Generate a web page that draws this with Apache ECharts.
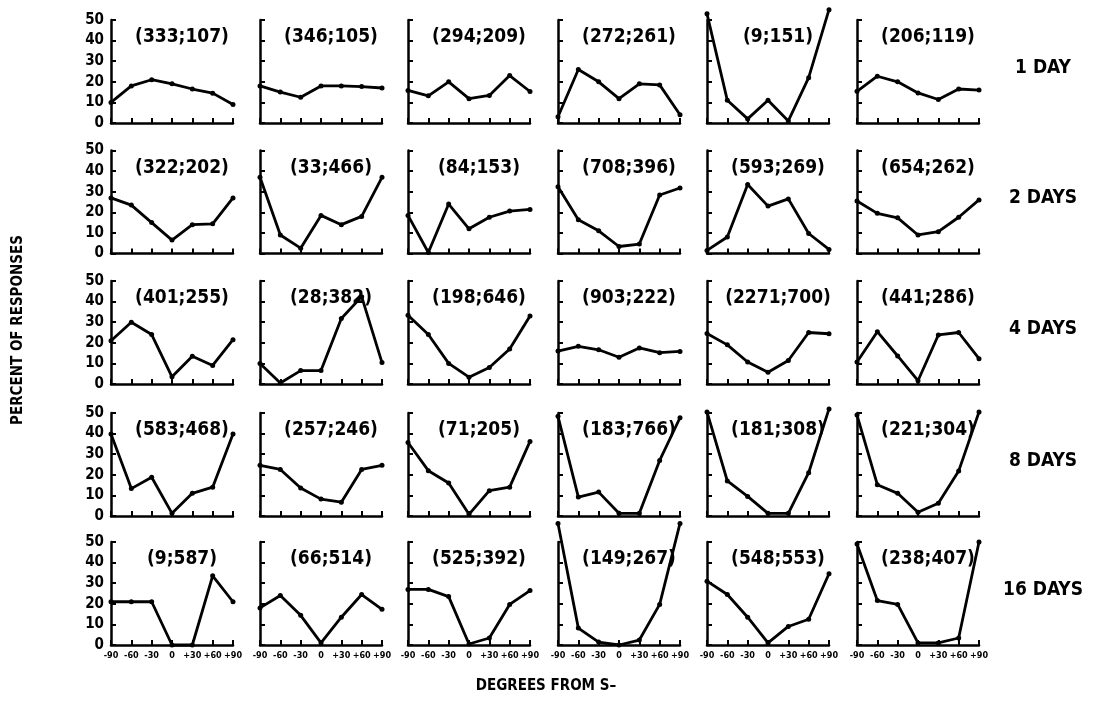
<!DOCTYPE html>
<html><head><meta charset="utf-8">
<script src="https://cdn.jsdelivr.net/npm/echarts@6/dist/echarts.min.js"></script>
<style>html,body{margin:0;padding:0;background:#fff}#c{width:1097px;height:713px}</style>
</head><body><div id="c"></div>
<script>
const xValues = [-90, -60, -30, 0, 30, 60, 90];
const xTickLabels = ['-90', '-60', '-30', '0', '+30', '+60', '+90'];
const rowLabels = ['1 DAY', '2 DAYS', '4 DAYS', '8 DAYS', '16 DAYS'];
const yAxisTitle = 'PERCENT OF RESPONSES';
const xAxisTitle = 'DEGREES FROM S\u2013';

const labels1 = ['(333;107)', '(346;105)', '(294;209)', '(272;261)', '(9;151)', '(206;119)'];
const labels2 = ['(322;202)', '(33;466)', '(84;153)', '(708;396)', '(593;269)', '(654;262)'];
const labels4 = ['(401;255)', '(28;382)', '(198;646)', '(903;222)', '(2271;700)', '(441;286)'];
const labels8 = ['(583;468)', '(257;246)', '(71;205)', '(183;766)', '(181;308)', '(221;304)'];
const labels16 = ['(9;587)', '(66;514)', '(525;392)', '(149;267)', '(548;553)', '(238;407)'];

const day1 = [
  [10, 18, 21, 19, 16.5, 14.5, 9],
  [18, 15, 12.5, 18, 18, 17.7, 17],
  [15.8, 13.2, 20, 11.8, 13.4, 23, 15.3],
  [3, 26, 20, 11.8, 19, 18.5, 4],
  [53, 11, 2, 11, 1, 22, 55],
  [15.4, 22.7, 20, 14.6, 11.4, 16.5, 16]
];
const day2 = [
  [27, 23.5, 15, 6.5, 14, 14.4, 27],
  [37, 9, 2.6, 18.5, 14, 18, 37],
  [18.5, 0.5, 24, 12, 17.6, 20.6, 21.4],
  [32.4, 16.4, 11, 3.4, 4.6, 28.4, 31.8],
  [1.5, 8, 33.5, 23, 26.5, 9.7, 2],
  [25.5, 19.5, 17.3, 9, 10.6, 17.6, 26]
];
const day4 = [
  [21, 30, 24, 3.5, 13.5, 9, 21.5],
  [10, 0.5, 6.5, 6.5, 31.8, 42.4, 10.4],
  [33.4, 24, 10, 3.3, 8, 17, 33],
  [16, 18.3, 16.6, 13, 17.5, 15.2, 15.8],
  [24.5, 19, 10.7, 5.7, 11.4, 25, 24.4],
  [10.7, 25.4, 13.6, 1.6, 23.8, 25, 12.3]
];
const day8 = [
  [39.8, 13.3, 18.8, 1.3, 11, 14, 39.8],
  [24.6, 22.6, 13.6, 8.2, 6.7, 22.6, 24.6],
  [35.7, 22, 16, 0.8, 12.3, 14, 36.2],
  [48.4, 9.2, 11.6, 1.3, 1.3, 27, 47.7],
  [50.5, 17, 9.5, 1.3, 1.3, 21, 52],
  [49, 15.2, 11, 1.8, 6.2, 21.8, 50.5]
];
const day16 = [
  [21, 21, 21, 0, 0, 33.6, 21],
  [18, 24, 14.4, 1, 13.5, 24.5, 17.3],
  [27, 27, 23.5, 0.5, 3.4, 19.7, 26.4],
  [59, 8.2, 1.4, 0, 2.4, 19.7, 59],
  [31, 24.5, 13.5, 1, 9, 12.5, 34.6],
  [49, 21.6, 19.7, 1, 1, 3.4, 50]
];

const panelLabels = [labels1, labels2, labels4, labels8, labels16];
const rows = [day1, day2, day4, day8, day16];

// layout
const FONT = "'Liberation Sans Narrow','DejaVu Sans Condensed','Roboto Condensed',sans-serif";
const colLeft = [111, 260, 408, 558, 707, 857];
const rowTop = [20, 150.5, 281, 413, 542];
const gw = 122, gh = 103;

const grid = [], xAxis = [], yAxis = [], series = [], graphic = [];
rows.forEach((row, r) => {
  row.forEach((vals, c) => {
    const i = grid.length;
    grid.push({ left: colLeft[c], top: rowTop[r], width: gw, height: gh, containLabel: false });
    xAxis.push({
      gridIndex: i, type: 'value', min: -90, max: 90, interval: 30,
      axisLine: { show: true, onZero: false, lineStyle: { color: '#000', width: 2.5 } },
      axisTick: { show: true, inside: true, length: 5, lineStyle: { color: '#000', width: 2 } },
      splitLine: { show: false },
      axisLabel: {
        show: r === rows.length - 1, margin: 6, color: '#000',
        fontFamily: FONT, fontWeight: 'bold', fontSize: 9,
        formatter: v => xTickLabels[xValues.indexOf(v)]
      }
    });
    yAxis.push({
      gridIndex: i, type: 'value', min: 0, max: 50, interval: 10,
      axisLine: { show: true, onZero: false, lineStyle: { color: '#000', width: 2.5 } },
      axisTick: { show: true, inside: true, length: 5, lineStyle: { color: '#000', width: 2 } },
      splitLine: { show: false },
      axisLabel: {
        show: c === 0, margin: 7, color: '#000',
        fontFamily: FONT, fontWeight: 'bold', fontSize: 15
      }
    });
    series.push({
      type: 'line', xAxisIndex: i, yAxisIndex: i,
      data: xValues.map((x, k) => [x, vals[k]]),
      clip: false, symbol: 'circle', symbolSize: 5,
      itemStyle: { color: '#000' },
      lineStyle: { color: '#000', width: 2.8 },
      animation: false
    });
    graphic.push({
      type: 'text', x: colLeft[c] + gw / 2 + 10, y: rowTop[r] + 8,
      style: { text: panelLabels[r][c], textAlign: 'center', fill: '#000',
        font: 'bold 19px ' + FONT }
    });
  });
  graphic.push({
    type: 'text', x: 1043, y: rowTop[r] + 48,
    style: { text: rowLabels[r], textAlign: 'center', textVerticalAlign: 'middle', fill: '#000',
      font: 'bold 19px ' + FONT }
  });
});
graphic.push({
  type: 'text', x: 18, y: 330, rotation: Math.PI / 2,
  style: { text: yAxisTitle, textAlign: 'center', textVerticalAlign: 'middle', fill: '#000',
    font: 'bold 15px ' + FONT }
});
graphic.push({
  type: 'text', x: 546, y: 686,
  style: { text: xAxisTitle, textAlign: 'center', textVerticalAlign: 'middle', fill: '#000',
    font: 'bold 15px ' + FONT }
});

const chart = echarts.init(document.getElementById('c'));
chart.setOption({ animation: false, backgroundColor: '#fff', grid, xAxis, yAxis, series, graphic });
</script></body></html>
